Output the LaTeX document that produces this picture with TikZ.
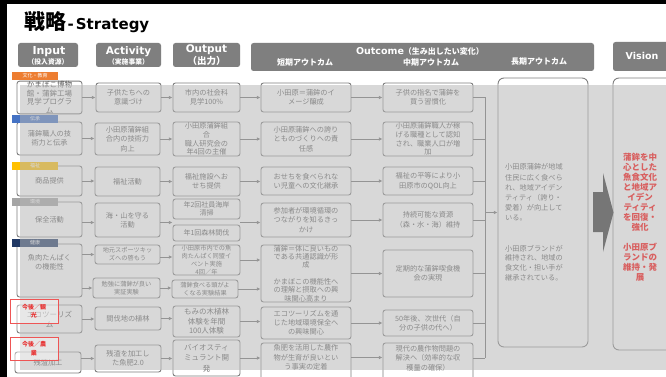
\documentclass[tikz,border=0pt]{standalone}
\usepackage{fontspec}
\setmainfont{Noto Sans CJK JP}
\newfontfamily\lat{DejaVu Sans}
\usetikzlibrary{arrows.meta}
\definecolor{hdr}{HTML}{7F7F7F}
\definecolor{bord}{HTML}{7F7F7F}
\definecolor{txt}{HTML}{595959}
\definecolor{arrc}{HTML}{707070}
\definecolor{ov}{HTML}{B6B6B6}
\definecolor{tagor}{HTML}{ED7D31}
\definecolor{tagbl}{HTML}{4472C4}
\definecolor{tagye}{HTML}{FFC000}
\definecolor{taggr}{HTML}{A5A5A5}
\definecolor{tagnv}{HTML}{203864}
\definecolor{visred}{HTML}{FF0000}
\definecolor{redb}{HTML}{EE5555}
\definecolor{redt}{HTML}{E83333}
\definecolor{bigar}{HTML}{303030}
\newcommand\bx[7][]{\node[box,#1,minimum width={(#5)-(#3)},minimum height={(#6)-(#4)}] (#2) at ({((#3)+(#5))/2},{((#4)+(#6))/2}) {#7};}
\tikzset{
 box/.style={draw=bord, line width=0.9pt, rounded corners=2.5pt, align=center, text=txt, inner sep=0pt, font=\fontsize{7.2}{9.4}\selectfont},
 sm/.style={font=\fontsize{6.2}{8}\selectfont},
 bline/.style={draw=bord, line width=0.9pt, rounded corners=2.5pt},
 hbox/.style={fill=hdr, draw=none, inner sep=0pt},
 htxt/.style={text=white, inner sep=0pt},
 arr/.style={draw=arrc, line width=0.9pt, -{Latex[length=3.6pt,width=3.6pt]}},
 ln/.style={draw=arrc, line width=0.9pt},
 tag/.style={inner sep=0pt, minimum width=46, minimum height=8.5, text=white, font=\fontsize{5}{5}\selectfont},
 kk/.style={draw=redb, line width=0.8pt, fill=white, fill opacity=0.4, text opacity=1, text=redt, align=center, inner sep=0pt, font=\fontsize{6}{8.5}\bfseries},
}
\begin{document}
\begin{tikzpicture}[x=1pt,y=-1pt]
\clip (0,0) rectangle (666,377);
\fill[white] (0,0) rectangle (666,377);

% title
\node[anchor=base west, inner sep=0pt, font=\bfseries] (title) at (24,30) {{\fontsize{21}{21}\selectfont 戦略}{\lat\fontsize{15}{15}\selectfont\hspace{1.5pt}-\hspace{2pt}Strategy}};

% header boxes
\bx[hbox]{hIn}{18}{43}{78}{67}{}
\bx[hbox]{hAct}{96}{43}{161}{67}{}
\bx[hbox]{hOut}{173}{43}{240}{67}{}
\bx[hbox]{hOutc}{251}{43}{594}{71}{}
\bx[hbox]{hVis}{613}{42}{680}{71}{}
\node[htxt, font=\lat\bfseries\fontsize{11}{11}\selectfont] (tIn) at (49,52) {Input};
\node[htxt, font=\bfseries\fontsize{6.8}{7}\selectfont] (sIn) at (48,62) {（投入資源）};
\node[htxt, font=\lat\bfseries\fontsize{10.5}{11}\selectfont] (tAct) at (128.5,52) {Activity};
\node[htxt, font=\bfseries\fontsize{6.8}{7}\selectfont] (sAct) at (128.5,62) {（実施事業）};
\node[htxt, font=\lat\bfseries\fontsize{10.5}{11}\selectfont] (tOut) at (206.5,50) {Output};
\node[htxt, font=\bfseries\fontsize{9.5}{10}\selectfont] (sOut) at (206.5,61) {（出力）};
\node[htxt, font=\bfseries] (tOutc) at (420,51) {{\lat\fontsize{9.5}{10}\selectfont Outcome}{\fontsize{8}{9}\selectfont（生み出したい変化）}};
\node[htxt, font=\bfseries\fontsize{8}{9}\selectfont] (sShort) at (305,62) {短期アウトカム};
\node[htxt, font=\bfseries\fontsize{8}{9}\selectfont] (sMid) at (431,62) {中期アウトカム};
\node[htxt, font=\bfseries\fontsize{8}{9}\selectfont] (sLong) at (539,62) {長期アウトカム};
\node[htxt, font=\lat\bfseries\fontsize{9.5}{10}\selectfont] (tVis) at (642,56) {Vision};

% row 1
\bx[font=\fontsize{7.5}{8.7}\selectfont]{in1}{17}{83}{82}{112}{かまぼこ博物\\館・蒲鉾工場\\見学プログラ\\ム}
\bx{act1}{96}{83}{161}{112}{子供たちへの\\意識づけ}
\bx{out1}{173}{83}{240}{112}{市内の社会科\\見学100\%}
\bx{st1}{261}{83}{351}{112}{小田原＝蒲鉾のイ\\メージ醸成}
\bx{md1}{383}{83}{473}{112}{子供の指名で蒲鉾を\\買う習慣化}
% row 2
\bx{in2}{17}{122}{82}{155}{蒲鉾職人の技\\術力と伝承}
\bx{act2}{95}{123}{160}{155}{小田原蒲鉾組\\合内の技術力\\向上}
\bx[font=\fontsize{7.2}{8.6}\selectfont]{out2}{173}{122}{240}{156}{小田原蒲鉾組\\合\\職人研究会の\\年4回の主催}
\bx{st2}{261}{122}{351}{156}{小田原蒲鉾への誇り\\とものづくりへの責\\任感}
\bx[font=\fontsize{7.2}{8.6}\selectfont]{md2}{383}{122}{473}{156}{小田原蒲鉾職人が稼\\げる職種として認知\\され、職業人口が増\\加}
% row 3
\bx{in3}{17}{166}{82}{196}{商品提供}
\bx{act3}{95}{167}{160}{196}{福祉活動}
\bx{out3}{173}{167}{240}{196}{福祉施設へお\\せち提供}
\bx{st3}{261}{167}{351}{195}{おせちを食べられな\\い児童への文化継承}
\bx{md3}{383}{167}{473}{195}{福祉の平等により小\\田原市のQOL向上}
% row 4
\bx{in4}{17}{202}{82}{237}{保全活動}
\bx{act4}{95}{203}{160}{237}{海・山を守る\\活動}
\bx[font=\fontsize{7}{8.4}\selectfont]{out4a}{173}{199}{240}{219}{年2回社員海岸\\清掃}
\bx[font=\fontsize{7}{8.4}\selectfont]{out4b}{173}{225}{240}{241}{年1回森林間伐}
\bx{st4}{261}{203}{351}{237}{参加者が環境循環の\\つながりを知るきっ\\かけ}
\bx{md4}{383}{203}{473}{237}{持続可能な資源\\（森・水・海）維持}
% row 5
\bx{in5}{17}{244}{82}{297}{魚肉たんぱく\\の機能性\\[8pt]}
\bx[sm]{act5a}{95}{245}{160}{264}{地元スポーツキッ\\ズへの啓もう}
\bx[font=\fontsize{6.2}{8}\selectfont]{out5a}{173}{245}{240}{275}{小田原市内での魚\\肉たんぱく同盟イ\\ベント実施\\4回／年}
\bx[sm]{act5b}{93}{278}{160}{298}{勉強に蒲鉾が良い\\実証実験}
\bx[sm]{out5b}{172}{280}{238}{298}{蒲鉾食べる頭がよ\\くなる実験結果}
\bx[font=\fontsize{7.2}{8.3}\selectfont]{st5}{261}{245}{351}{302}{蒲鉾＝体に良いもの\\である共通認識が形\\成\\[8.3pt]かまぼこの機能性へ\\の理解と摂取への興\\味関心高まり}
\bx{md5}{383}{250}{473}{297}{定期的な蒲鉾喫食機\\会の実現}
% row 6
\bx[font=\fontsize{7.5}{10}\selectfont]{in6}{17}{305}{82}{333}{エコツーリズ\\ム}
\bx{act6}{95}{307}{161}{330}{間伐地の植林}
\bx[font=\fontsize{7.5}{9.6}\selectfont]{out6}{173}{306}{240}{337}{もみの木植林\\体験を年間\\100人体験}
\bx[font=\fontsize{7.2}{8.8}\selectfont]{st6}{261}{307}{351}{339}{エコツーリズムを通\\じた地域環境保全へ\\の興味関心}
\bx{md6}{383}{310}{473}{336}{50年後、次世代（自\\分の子供の代へ）}
% row 7
\bx{in7}{15}{352}{81}{373}{残渣加工}
\bx{act7}{95}{345}{161}{372}{残渣を加工し\\た魚肥2.0}
\bx[font=\fontsize{7.5}{10.5}\selectfont]{out7}{173}{340}{240}{376}{バイオスティ\\ミュラント開\\発}
\bx[draw=none]{st7}{261}{343}{351}{372}{魚肥を活用した農作\\物が生育が良いとい\\う事実の定着}
\draw[bline] (261,395) -- (261,343) -- (351,343) -- (351,395);
\bx[draw=none]{md7}{383}{343}{473}{373}{現代の農作物問題の\\解決へ（効率的な収\\穫量の確保）}
\draw[bline] (383,395) -- (383,343) -- (473,343) -- (473,395);

% long-term and vision
\bx[rounded corners=6pt]{lt}{498}{78}{588}{347}{}
\node[anchor=west, align=left, text=txt, inner sep=0pt, font=\fontsize{7.2}{10.2}\selectfont] (ltA) at (505,192.5) {小田原蒲鉾が地域\\住民に広く食べら\\れ、地域アイデン\\ティティ（誇り・\\愛着）が向上して\\いる。};
\node[anchor=west, align=left, text=txt, inner sep=0pt, font=\fontsize{7.2}{9.6}\selectfont] (ltB) at (505,263) {小田原ブランドが\\維持され、地域の\\食文化・担い手が\\継承されている。};
\bx[rounded corners=6pt]{vs}{613}{78}{690}{350}{}
\node[align=center, text=visred, inner sep=0pt, font=\bfseries\fontsize{8.5}{10}\selectfont] (vt) at (640,217) {蒲鉾を中\\心とした\\魚食文化\\と地域ア\\イデン\\ティティ\\を回復・\\強化\\[10pt]小田原ブ\\ランドの\\維持・発\\展};
\fill[bigar] (593,192) -- (603,192) -- (603,173) -- (613.5,212.5) -- (603,252) -- (603,232) -- (593,232) -- cycle;

% tags under overlay
\node[tag, fill=tagbl] (tg2) at (35,119) {伝承};
\node[tag, fill=tagye] (tg3) at (35,166) {福祉};
\node[tag, fill=taggr] (tg4) at (35,202) {環境};
\node[tag, fill=tagnv] (tg5) at (35,243) {健康};

% arrows
\draw[arr] (in1.east) -- (act1.west);
\draw[arr] (act1.east) -- (out1.west);
\draw[arr] (out1.east) -- (st1.west);
\draw[arr] (st1.east) -- (md1.west);
\draw[arr] (in2.east) -- (act2.west |- in2.east);
\draw[arr] (act2.east) -- (out2.west |- act2.east);
\draw[arr] (out2.east) -- (st2.west |- out2.east);
\draw[arr] (st2.east) -- (md2.west |- st2.east);
\draw[arr] (in3.east) -- (act3.west |- in3.east);
\draw[arr] (act3.east) -- (out3.west |- act3.east);
\draw[arr] (out3.east) -- (st3.west |- out3.east);
\draw[arr] (st3.east) -- (md3.west |- st3.east);
\coordinate (r4) at (0,222.5);
\draw[arr] (in4.east |- r4) -- (act4.west |- r4);
\draw[arr] (act4.east |- r4) -- (out4a.west |- r4);
\draw[arr] (out4a.east |- r4) -- (st4.west |- r4);
\draw[arr] (st4.east) -- (md4.west |- st4.east);
\coordinate (r5a) at (0,257);
\draw[arr] (in5.east |- act5a.west) -- (act5a.west);
\draw[arr] (in5.east |- act5b.west) -- (act5b.west);
\draw[arr] (act5a.east |- r5a) -- (out5a.west |- r5a);
\draw[arr] (act5b.east) -- (out5b.west |- act5b.east);
\draw[arr] (out5a.east) -- (st5.west |- out5a.east);
\draw[arr] (out5b.east) -- (st5.west |- out5b.east);
\draw[arr] (st5.east |- md5.west) -- (md5.west);
\draw[arr] (in6.east) -- (act6.west |- in6.east);
\draw[arr] (act6.east) -- (out6.west |- act6.east);
\draw[arr] (out6.east) -- (st6.west |- out6.east);
\draw[arr] (st6.east) -- (md6.west |- st6.east);
\draw[arr] (in7.east |- act7.west) -- (act7.west);
\draw[arr] (act7.east) -- (out7.west |- act7.east);
\draw[arr] (out7.east) -- (st7.west |- out7.east);
\draw[arr] (st7.east) -- (md7.west |- st7.east);
% bracket
\coordinate (brT) at (485,97.5);
\coordinate (brB) at (485,358);
\draw[ln] (brT) -- (brB);
\foreach \m in {md1,md2,md3,md4,md5,md6,md7} \draw[ln] (\m.east) -- (\m.east -| brT);
\draw[arr] (brT |- lt.west) -- (lt.west);

% overlay
\fill[ov, opacity=0.524] (20,85) rectangle (666,370);

% above overlay
\node[tag, fill=tagor] (tg1) at (35,76) {文化・教育};
\node[kk, minimum width=48, minimum height=24] (kk1) at (34,311) {今後／観\\光};
\node[kk, minimum width=48, minimum height=23] (kk2) at (34,348.5) {今後／農\\業};

% black borders
\fill[black] (0,0) rectangle (666,4.5);
\fill[black] (0,0) rectangle (7,377);
\end{tikzpicture}
\end{document}
